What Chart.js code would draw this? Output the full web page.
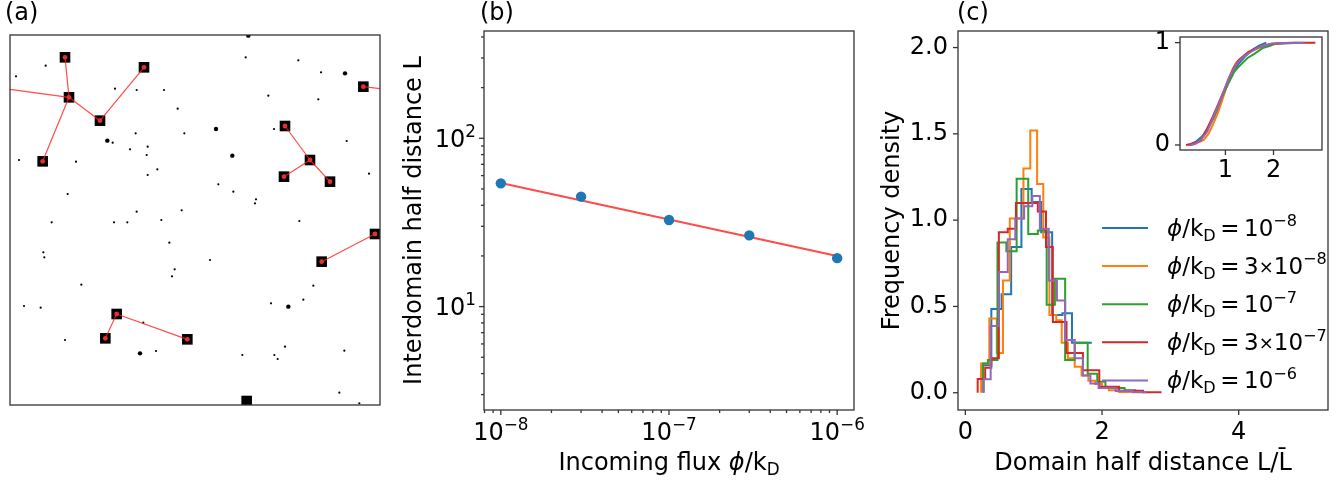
<!DOCTYPE html>
<html>
<head>
<meta charset="utf-8">
<script src="https://cdn.jsdelivr.net/npm/chart.js@4.4.1/dist/chart.umd.min.js"></script>
<style>
  html, body { margin: 0; padding: 0; background: #fff; }
  #wrap { position: relative; width: 1344px; height: 480px; }
  #wrap canvas { position: absolute; left: 0; top: 0; }
</style>
</head>
<body>
<div id="wrap">
  <canvas id="snapshot" width="1344" height="480"></canvas>
  <canvas id="spacing" width="1344" height="480"></canvas>
  <canvas id="histogram" width="1344" height="480"></canvas>
  <canvas id="cumulative" width="1344" height="480"></canvas>
</div>
<script>
// ---- (a) snapshot: positions on the 1110 x 1110 lattice, y counted from the top ----
const domainX = [165, 402, 177, 270, 98, 1060, 825, 900, 822, 960, 1095, 935, 320, 286, 532, 710];
const domainY = [67, 97, 187, 257, 379, 155, 273, 375, 425, 440, 597, 680, 837, 910, 913, 1098];
const links = [[0, 2], [2, 3], [3, 1], [2, 4], [6, 7], [7, 8], [7, 9], [10, 11], [12, 13], [12, 14]];
// links that leave the box (periodic boundary): domain index, exit point
const wrapLinks = [[2, 0, 163], [5, 1110, 161]];
const clusterX = [292, 1005, 618, 667, 835, 390, 715];
const clusterY = [317, 115, 282, 362, 815, 955, 2];
const dustX = [107,18,315,380,462,503,377,523,308,360,413,410,442,413,198,27,707,865,933,775,925,792,1010,1077,625,670,738,735,380,515,454,312,352,125,173,868,478,100,103,600,494,486,214,910,42,92,783,880,400,165,438,697,793,803,825,1003,988,1048];
const dustY = [92,124,161,165,165,221,295,295,323,343,335,360,403,420,380,375,67,76,112,182,193,282,318,416,448,470,493,505,530,526,555,562,562,562,477,558,623,652,667,675,703,724,749,752,813,818,805,794,863,915,948,960,960,972,935,947,1073,1105];

// ---- (b) interdomain half distance vs incoming flux ----
const flux = [1e-8, 3e-8, 1e-7, 3e-7, 1e-6];
const halfDistance = [54.0, 45.0, 32.7, 26.5, 19.4];
const fitFlux = [1e-8, 1e-6];
const fitHalfDistance = [54.3, 20.0];
const fluxTicks = [1e-8, 1e-7, 1e-6];
const fluxTickLabels = [['10', '\u22128'], ['10', '\u22127'], ['10', '\u22126']];
const distanceTicks = [10, 100];
const distanceTickLabels = [['10', '1'], ['10', '2']];

// ---- (c) histograms of L / mean L, one per flux ----
const fluxLabels = [['10', '\u22128'], ['3\u00D710', '\u22128'], ['10', '\u22127'], ['3\u00D710', '\u22127'], ['10', '\u22126']];
const hist1e8X = [0.24, 0.24, 0.38, 0.53, 0.67, 0.82, 0.97, 1.11, 1.27, 1.42, 1.56, 1.85];
const hist1e8Y = [0.09, 0.16, 0.485, 0.57, 0.845, 1.18, 1.105, 0.93, 0.45, 0.46, 0.29, 0.29];
const hist3e8X = [0.23, 0.23, 0.35, 0.46, 0.55, 0.65, 0.85, 0.95, 1.05, 1.14, 1.23, 1.33, 1.41, 1.50, 1.60, 1.70, 1.80, 1.90, 2.00, 2.10, 2.25, 2.45];
const hist3e8Y = [0, 0.17, 0.43, 0.23, 0.65, 1.01, 1.30, 1.52, 1.21, 0.90, 0.45, 0.42, 0.29, 0.20, 0.15, 0.10, 0.07, 0.05, 0.03, 0.015, 0.005, 0.005];
const hist1e7X = [0.26, 0.26, 0.33, 0.47, 0.60, 0.75, 0.92, 1.06, 1.19, 1.31, 1.46, 1.60, 1.79, 1.93, 2.05, 2.33, 2.50];
const hist1e7Y = [0, 0.17, 0.19, 0.87, 0.82, 1.24, 0.92, 0.94, 0.51, 0.66, 0.19, 0.29, 0.11, 0.064, 0.027, 0.015, 0.015];
const hist3e7X = [0.18, 0.18, 0.29, 0.38, 0.49, 0.62, 0.74, 1.06, 1.18, 1.28, 1.48, 1.72, 1.96, 2.25, 2.60, 2.87];
const hist3e7Y = [0, 0.08, 0.145, 0.20, 0.93, 0.95, 1.10, 1.05, 0.845, 0.41, 0.23, 0.13, 0.035, 0.012, 0.003, 0.003];
const hist1e6X = [0.27, 0.27, 0.37, 0.49, 0.62, 0.73, 0.86, 0.98, 1.09, 1.22, 1.34, 1.46, 1.60, 1.72, 1.83, 1.95, 2.20, 2.45, 2.65];
const hist1e6Y = [0, 0.078, 0.386, 0.70, 0.89, 1.01, 1.08, 1.14, 0.95, 0.65, 0.535, 0.305, 0.20, 0.10, 0.054, 0.027, 0.01, 0.003, 0.003];
const densityTicks = [0, 0.5, 1, 1.5, 2];
const densityTickLabels = ['0.0', '0.5', '1.0', '1.5', '2.0'];
const ratioTicks = [0, 2, 4];
const ratioTickLabels = ['0', '2', '4'];

// inset: cumulative distributions
const cdf1e8X = [0.24, 0.38, 0.53, 0.67, 0.82, 0.97, 1.11, 1.27, 1.42, 1.56, 1.70, 1.85];
const cdf1e8Y = [0.0, 0.03, 0.09, 0.19, 0.33, 0.51, 0.67, 0.79, 0.87, 0.93, 0.97, 1.0];
const cdf3e8X = [0.23, 0.35, 0.46, 0.55, 0.65, 0.75, 0.85, 0.95, 1.05, 1.14, 1.23, 1.33, 1.41, 1.50, 1.70, 1.90, 2.10, 2.45];
const cdf3e8Y = [0.0, 0.01, 0.03, 0.05, 0.11, 0.21, 0.32, 0.46, 0.61, 0.73, 0.81, 0.85, 0.88, 0.91, 0.95, 0.98, 0.995, 1.0];
const cdf1e7X = [0.26, 0.33, 0.47, 0.60, 0.75, 0.92, 1.06, 1.19, 1.31, 1.46, 1.60, 1.79, 1.93, 2.05, 2.33, 2.50];
const cdf1e7Y = [0.0, 0.01, 0.04, 0.14, 0.26, 0.46, 0.60, 0.72, 0.78, 0.85, 0.89, 0.95, 0.97, 0.99, 0.995, 1.0];
const cdf3e7X = [0.18, 0.29, 0.38, 0.49, 0.62, 0.74, 0.85, 0.96, 1.06, 1.18, 1.28, 1.48, 1.72, 1.96, 2.25, 2.60, 2.87];
const cdf3e7Y = [0.0, 0.01, 0.025, 0.045, 0.16, 0.28, 0.40, 0.52, 0.64, 0.76, 0.83, 0.91, 0.96, 0.99, 0.997, 1.0, 1.0];
const cdf1e6X = [0.27, 0.37, 0.49, 0.62, 0.73, 0.86, 0.98, 1.09, 1.22, 1.34, 1.46, 1.60, 1.72, 1.83, 1.95, 2.20, 2.65];
const cdf1e6Y = [0.0, 0.01, 0.05, 0.13, 0.25, 0.40, 0.54, 0.67, 0.78, 0.85, 0.89, 0.93, 0.96, 0.975, 0.99, 0.997, 1.0];
const insetXTicks = [1, 2];
const insetYTicks = [0, 1];

const colors = ['#1f77b4', '#ff7f0e', '#2ca02c', '#d62728', '#9467bd'];
const FONT = '"DejaVu Sans", sans-serif';
const SIZE = 24;

Chart.defaults.font.family = FONT;
Chart.defaults.font.size = SIZE;
Chart.defaults.color = '#000';

const pts = (xs, ys) => xs.map((x, i) => ({ x, y: ys[i] }));

// text with italic / sub / superscript runs, drawn on the baseline y
function drawRich(ctx, parts, x, y, align, size) {
  size = size || SIZE;
  const scaleOf = s => (s === 'sub' || s === 'sup') ? 0.7 : s === 'small' ? 0.78 : 1;
  const fontFor = s => (s === 'it' ? 'italic ' : '') + (size * scaleOf(s)) + 'px ' + FONT;
  let w = 0;
  parts.forEach(([t, s]) => { ctx.font = fontFor(s); w += ctx.measureText(t).width; });
  let cx = align === 'center' ? x - w / 2 : align === 'right' ? x - w : x;
  ctx.textAlign = 'left';
  ctx.textBaseline = 'alphabetic';
  parts.forEach(([t, s]) => {
    ctx.font = fontFor(s);
    const dy = s === 'sub' ? size * 0.22 : s === 'sup' ? -size * 0.42 : s === 'small' ? -size * 0.06 : 0;
    ctx.fillText(t, cx, y + dy);
    cx += ctx.measureText(t).width;
  });
}

function captions(items) {
  return {
    id: 'captions',
    afterDraw(chart) {
      const ctx = chart.ctx;
      items.forEach(item => {
        ctx.save();
        ctx.fillStyle = '#000';
        ctx.translate(item.x, item.y);
        if (item.vertical) ctx.rotate(-Math.PI / 2);
        drawRich(ctx, item.parts, 0, 0, item.align || 'left');
        ctx.restore();
      });
    }
  };
}

// powers of ten under / beside the log axes, placed through the scales
function powerLabels(xTicks, xLabels, yTicks, yLabels) {
  return {
    id: 'powerLabels',
    afterDraw(chart) {
      const ctx = chart.ctx, a = chart.chartArea;
      ctx.save();
      ctx.fillStyle = '#000';
      xTicks.forEach((v, i) => {
        drawRich(ctx, [[xLabels[i][0], ''], [xLabels[i][1], 'sup']], chart.scales.x.getPixelForValue(v), a.bottom + 30, 'center');
      });
      yTicks.forEach((v, i) => {
        drawRich(ctx, [[yLabels[i][0], ''], [yLabels[i][1], 'sup']], a.left - 8, chart.scales.y.getPixelForValue(v) + 8.5, 'right');
      });
      ctx.restore();
    }
  };
}

// box round the plot area plus outward tick marks (long for major, short for minor)
const axesFrame = {
  id: 'axesFrame',
  beforeDraw(chart) {
    const a = chart.chartArea, ctx = chart.ctx;
    ctx.save();
    ctx.fillStyle = '#fff';
    ctx.fillRect(a.left, a.top, a.right - a.left, a.bottom - a.top);
    ctx.restore();
  },
  afterDraw(chart) {
    const a = chart.chartArea, ctx = chart.ctx;
    ctx.save();
    ctx.strokeStyle = '#333';
    ctx.lineWidth = 1.3;
    Object.values(chart.scales).forEach(scale => {
      if (!scale.options.display) return;
      scale.ticks.forEach(t => {
        const p = scale.getPixelForValue(t.value);
        const len = t.major ? 5 : 3;
        ctx.beginPath();
        if (scale.isHorizontal()) { ctx.moveTo(p, a.bottom); ctx.lineTo(p, a.bottom + len); }
        else { ctx.moveTo(a.left, p); ctx.lineTo(a.left - len, p); }
        ctx.stroke();
      });
    });
    ctx.strokeRect(a.left, a.top, a.right - a.left, a.bottom - a.top);
    ctx.restore();
  }
};

function fixedTicks(values, labels, minor) {
  return scale => {
    scale.ticks = values.map((v, i) => ({ value: v, major: true, label: labels ? labels[i] : '' }))
      .concat((minor || []).map(v => ({ value: v, major: false, label: '' })));
  };
}
const tickLabel = (value, index, ticks) => ticks[index].label;

function axis(extra, padding) {
  return Object.assign({
    grid: { display: false, drawTicks: false },
    border: { display: false },
    ticks: { autoSkip: false, maxRotation: 0, padding: padding, callback: tickLabel },
  }, extra);
}

function logMinor(fromExp, toExp, lo, hi) {
  const out = [];
  for (let e = fromExp; e <= toExp; e++) {
    for (let m = 2; m <= 9; m++) {
      const v = m * Math.pow(10, e);
      if (v > lo && v < hi) out.push(v);
    }
  }
  return out;
}

const base = {
  responsive: false,
  animation: false,
  devicePixelRatio: 1,
  events: [],
  plugins: { legend: { display: false }, tooltip: { enabled: false } },
};

// ---------- (a) ----------
const linkStyle = { showLine: true, borderColor: 'rgba(255,30,30,0.8)', borderWidth: 1.2, pointRadius: 0, order: 2 };
const linkSets = links.map(([i, j]) => Object.assign({
  data: [{ x: domainX[i], y: domainY[i] }, { x: domainX[j], y: domainY[j] }],
}, linkStyle)).concat(wrapLinks.map(([i, x, y]) => Object.assign({
  data: [{ x: domainX[i], y: domainY[i] }, { x, y }],
}, linkStyle)));
const marked = [...new Set(links.flat().concat(wrapLinks.map(w => w[0])))];

new Chart(document.getElementById('snapshot'), {
  type: 'scatter',
  data: {
    datasets: [
      { data: pts(dustX, dustY), pointRadius: 1.1, pointBorderWidth: 0, backgroundColor: '#000', order: 5 },
      { data: pts(clusterX, clusterY), pointRadius: 2.2, pointBorderWidth: 0, backgroundColor: '#000', order: 4 },
      { data: pts(domainX, domainY), pointStyle: 'rect', pointRadius: 7.5, pointBorderWidth: 0, backgroundColor: '#000', order: 3 },
      ...linkSets,
      { data: marked.map(i => ({ x: domainX[i], y: domainY[i] })), pointRadius: 2.4, pointBorderWidth: 0, backgroundColor: '#e8302a', order: 1 },
    ]
  },
  options: Object.assign({}, base, {
    layout: { padding: { left: 10, top: 35, right: 964, bottom: 75 } },
    scales: {
      x: { type: 'linear', min: 0, max: 1110, display: false },
      y: { type: 'linear', min: 0, max: 1110, reverse: true, display: false },
    },
  }),
  plugins: [axesFrame, captions([{ parts: [['(a)', '']], x: 5, y: 20 }])],
});

// ---------- (b) ----------
const xMinB = Math.pow(10, -8.1), xMaxB = Math.pow(10, -5.9);
new Chart(document.getElementById('spacing'), {
  type: 'scatter',
  data: {
    datasets: [
      { data: pts(flux, halfDistance), pointRadius: 5.2, pointBorderWidth: 0, backgroundColor: '#1f77b4', order: 0 },
      { data: pts(fitFlux, fitHalfDistance), showLine: true, pointRadius: 0, borderColor: 'rgba(255,30,30,0.8)', borderWidth: 2, order: 1 },
    ]
  },
  options: Object.assign({}, base, {
    layout: { padding: { left: 424, top: 31, right: 490, bottom: 30 } },
    scales: {
      x: axis({ type: 'logarithmic', position: 'bottom', min: xMinB, max: xMaxB,
        afterBuildTicks: fixedTicks(fluxTicks, null, logMinor(-9, -6, xMinB, xMaxB)),
        afterFit: s => { s.height = 40; } }, 8),
      y: axis({ type: 'logarithmic', position: 'left', min: 2.43, max: 434,
        afterBuildTicks: fixedTicks(distanceTicks, null, logMinor(0, 2, 2.43, 434)),
        afterFit: s => { s.width = 60; } }, 9),
    },
  }),
  plugins: [axesFrame, powerLabels(fluxTicks, fluxTickLabels, distanceTicks, distanceTickLabels), captions([
    { parts: [['(b)', '']], x: 480, y: 20 },
    { parts: [['Interdomain half distance L', '']], x: 421, y: 220.5, vertical: true, align: 'center' },
    { parts: [['Incoming flux ', ''], ['\u03D5', 'it'], ['/k', ''], ['D', 'sub']], x: 669, y: 470, align: 'center' },
  ])],
});

// ---------- (c) ----------
const histX = [hist1e8X, hist3e8X, hist1e7X, hist3e7X, hist1e6X];
const histY = [hist1e8Y, hist3e8Y, hist1e7Y, hist3e7Y, hist1e6Y];

function fluxLegend() {
  return {
    id: 'fluxLegend',
    afterDraw(chart) {
      const ctx = chart.ctx;
      fluxLabels.forEach((lab, i) => {
        const y = 228 + 38.1 * i;
        ctx.save();
        ctx.strokeStyle = colors[i];
        ctx.lineWidth = 2;
        ctx.beginPath(); ctx.moveTo(1102, y); ctx.lineTo(1148, y); ctx.stroke();
        ctx.fillStyle = '#000';
        const num = lab[0].split('\u00D7');
        const parts = [['\u03D5', 'it'], ['/k', ''], ['D', 'sub'], ['\u2009=\u2009', '']];
        if (num.length > 1) parts.push([num[0], ''], ['\u00D7', 'small'], [num[1], '']);
        else parts.push([num[0], '']);
        parts.push([lab[1], 'sup']);
        drawRich(ctx, parts, 1167, y + 8, 'left', 23);
        ctx.restore();
      });
    }
  };
}

new Chart(document.getElementById('histogram'), {
  type: 'line',
  data: {
    datasets: histX.map((xs, i) => ({
      data: pts(xs, histY[i]), stepped: 'before', borderColor: colors[i], borderWidth: 2,
      pointRadius: 0, fill: false, order: 5 - i,
    }))
  },
  options: Object.assign({}, base, {
    layout: { padding: { left: 898, top: 31, right: 16, bottom: 30 } },
    scales: {
      x: axis({ type: 'linear', position: 'bottom', min: -0.108, max: 5.307,
        afterBuildTicks: fixedTicks(ratioTicks, ratioTickLabels),
        afterFit: s => { s.height = 40; } }, 8),
      y: axis({ type: 'linear', position: 'left', min: -0.1, max: 2.096,
        afterBuildTicks: fixedTicks(densityTicks, densityTickLabels),
        afterFit: s => { s.width = 60; } }, 10),
    },
  }),
  plugins: [axesFrame, fluxLegend(), captions([
    { parts: [['(c)', '']], x: 957, y: 20 },
    { parts: [['Frequency density', '']], x: 899, y: 220.5, vertical: true, align: 'center' },
    { parts: [['Domain half distance L/L\u0304', '']], x: 1143, y: 470, align: 'center' },
  ])],
});

// ---------- (c) inset ----------
const cdfX = [cdf1e8X, cdf3e8X, cdf1e7X, cdf3e7X, cdf1e6X];
const cdfY = [cdf1e8Y, cdf3e8Y, cdf1e7Y, cdf3e7Y, cdf1e6Y];

new Chart(document.getElementById('cumulative'), {
  type: 'line',
  data: {
    datasets: cdfX.map((xs, i) => ({
      data: pts(xs, cdfY[i]), borderColor: colors[i], borderWidth: 2,
      pointRadius: 0, fill: false, tension: 0, order: 5 - i,
    }))
  },
  options: Object.assign({}, base, {
    layout: { padding: { left: 1150, top: 37, right: 22, bottom: 300 } },
    scales: {
      x: axis({ type: 'linear', position: 'bottom', min: 0.056, max: 3.008,
        afterBuildTicks: fixedTicks(insetXTicks, insetXTicks.map(String)),
        afterFit: s => { s.height = 30; } }, 6),
      y: axis({ type: 'linear', position: 'left', min: -0.049, max: 1.055,
        afterBuildTicks: fixedTicks(insetYTicks, insetYTicks.map(String)),
        afterFit: s => { s.width = 30; } }, 10),
    },
  }),
  plugins: [axesFrame],
});
</script>
</body>
</html>
